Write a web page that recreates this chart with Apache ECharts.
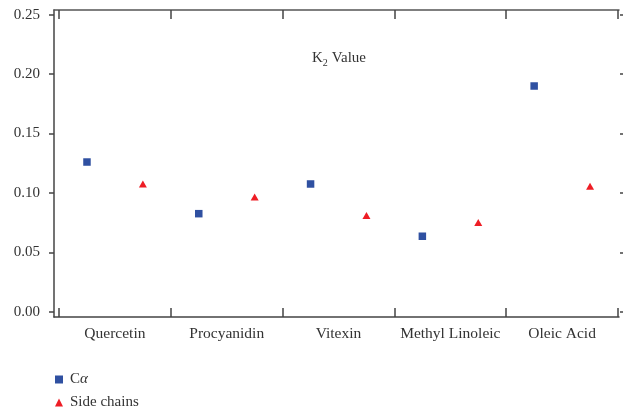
<!DOCTYPE html>
<html>
<head>
<meta charset="utf-8">
<script src="https://cdn.jsdelivr.net/npm/echarts@6/dist/echarts.min.js"></script>
<style>
  html, body {margin: 0; padding: 0; background: #fff;}
  #chart {width: 623px; height: 413px;}
</style>
</head>
<body>
<div id="chart"></div>
<script>
// categories and values
const categories = ['Quercetin', 'Procyanidin', 'Vitexin', 'Methyl Linoleic', 'Oleic Acid'];
const caValues = [0.126, 0.0825, 0.1075, 0.0635, 0.190];
const sideValues = [0.1075, 0.0965, 0.081, 0.075, 0.1055];
const yTicks = [0, 0.05, 0.10, 0.15, 0.20, 0.25];

const font = 'Liberation Serif';
const lineColor = '#444';
const blue = '#2f50a1';
const red = '#ee1d25';

const chart = echarts.init(document.getElementById('chart'));

const boundaries = categories.map((c, i) => i).concat([categories.length]);
const centers = categories.map((c, i) => i + 0.5);

const legendText = {
  fontFamily: font,
  fontSize: 15,
  color: '#333',
  padding: [0, 0, 0, 2],
  rich: {i: {fontFamily: font, fontSize: 15, fontStyle: 'italic', color: '#333'}}
};

chart.setOption({
  animation: false,
  textStyle: {fontFamily: font, color: '#333'},
  title: {
    text: 'K{sub|2}Value',
    left: 307,
    top: 44,
    textStyle: {
      fontFamily: font,
      fontSize: 15,
      fontWeight: 'normal',
      color: '#333',
      rich: {
        sub: {fontFamily: font, fontSize: 10, color: '#333', padding: [9, 4, 0, 0]}
      }
    }
  },
  legend: [{
    left: 50,
    top: 367,
    itemWidth: 8,
    itemHeight: 8,
    data: [{name: 'Cα', icon: 'rect'}],
    formatter: name => 'C{i|α}',
    textStyle: legendText
  }, {
    left: 50,
    top: 390,
    itemWidth: 8,
    itemHeight: 8,
    data: [{name: 'Side chains', icon: 'triangle'}],
    textStyle: legendText
  }],
  grid: {left: 54, right: 4, top: 10, bottom: 96},
  xAxis: [{
    type: 'value',
    position: 'bottom',
    min: -0.045,
    max: 5.009,
    splitLine: {show: false},
    axisLine: {show: true, onZero: false, lineStyle: {color: lineColor, width: 1.5}},
    axisTick: {show: true, inside: true, length: 9, customValues: boundaries,
      lineStyle: {color: lineColor, width: 1.5}},
    axisLabel: {
      customValues: centers,
      formatter: v => categories[Math.round(v - 0.5)] || '',
      fontFamily: font, fontSize: 15.5, color: '#333', margin: 9
    }
  }, {
    type: 'value',
    position: 'top',
    min: -0.045,
    max: 5.009,
    splitLine: {show: false},
    axisLine: {show: true, onZero: false, lineStyle: {color: '#555', width: 1.5}},
    axisTick: {show: true, inside: true, length: 9, customValues: boundaries,
      lineStyle: {color: lineColor, width: 1.5}},
    axisLabel: {show: false}
  }],
  yAxis: [{
    type: 'value',
    position: 'left',
    min: -0.0045,
    max: 0.254,
    splitLine: {show: false},
    axisLine: {show: true, onZero: false, lineStyle: {color: lineColor, width: 1.5}},
    axisTick: {show: true, length: 5, customValues: yTicks,
      lineStyle: {color: lineColor, width: 1.5}},
    axisLabel: {
      customValues: yTicks,
      formatter: v => v.toFixed(2),
      fontFamily: font, fontSize: 15, color: '#333', margin: 14
    }
  }, {
    // right axis sits just past the picture edge; only its inner ticks show
    type: 'value',
    position: 'right',
    offset: 5,
    min: -0.0045,
    max: 0.254,
    splitLine: {show: false},
    axisLine: {show: true, onZero: false, lineStyle: {color: lineColor, width: 1.5}},
    axisTick: {show: true, inside: true, length: 4, customValues: yTicks,
      lineStyle: {color: lineColor, width: 1.5}},
    axisLabel: {show: false}
  }],
  series: [{
    name: 'Cα',
    type: 'scatter',
    symbol: 'rect',
    symbolSize: 7.5,
    itemStyle: {color: blue, opacity: 1},
    data: caValues.map((v, i) => [i + 0.25, v])
  }, {
    name: 'Side chains',
    type: 'scatter',
    symbol: 'triangle',
    symbolSize: [8, 7],
    itemStyle: {color: red, opacity: 1},
    data: sideValues.map((v, i) => [i + 0.75, v])
  }]
});
</script>
</body>
</html>
